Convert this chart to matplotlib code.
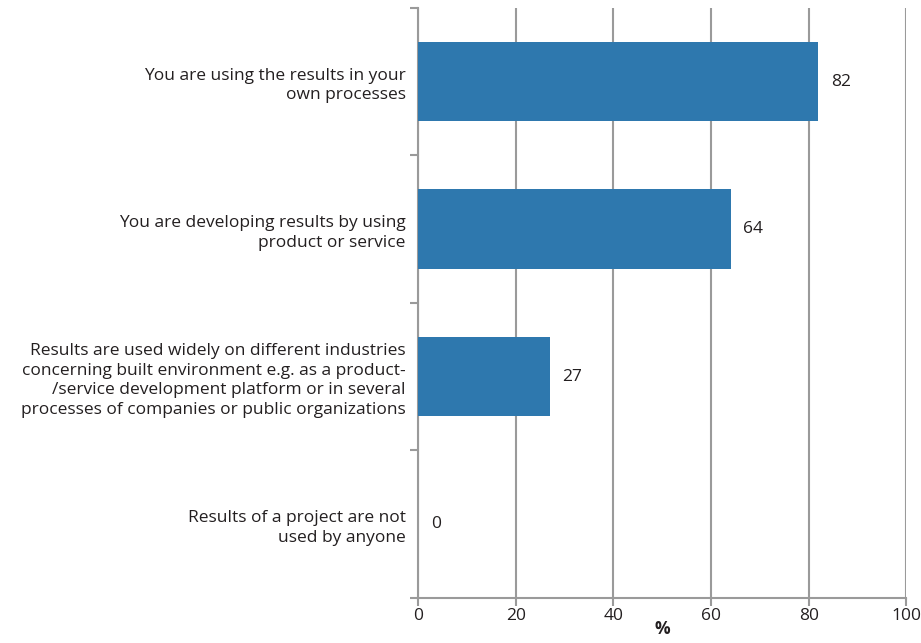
import matplotlib.pyplot as plt
import numpy as np

# Data
categories = [
    "You are using the results in your\nown processes",
    "You are developing results by using\nproduct or service",
    "Results are used widely on different industries\nconcerning built environment e.g. as a product-\n/service development platform or in several\nprocesses of companies or public organizations",
    "Results of a project are not\nused by anyone",
]
values = [82, 64, 27, 0]

bar_color = "#2E78AE"
grid_color = "#9a9a9a"
text_color = "#231f20"

plt.rcParams['font.family'] = ['Open Sans', 'DejaVu Sans']

fig = plt.figure(figsize=(9.21, 6.43), dpi=100)
ax = fig.add_axes([0.454, 0.07, 0.53, 0.918])

y = np.arange(len(categories))
ax.barh(y, values, height=0.54, color=bar_color, zorder=3)

for yi, v in zip(y, values):
    ax.text(v + 2.6, yi, str(v), va='center', ha='left', fontsize=12.5, color=text_color)

ax.set_xlim(0, 100)
ax.set_ylim(len(categories) - 0.5, -0.5)
ax.set_xticks(np.arange(0, 101, 20))
ax.set_yticks(y)
ax.set_yticklabels(categories, fontsize=12.5, color=text_color, linespacing=1.3)
ax.set_yticks(np.arange(-0.5, len(categories), 1), minor=True)
ax.tick_params(axis='y', which='major', length=0, pad=9)
ax.tick_params(axis='y', which='minor', length=6, width=1.5, color=grid_color)
ax.tick_params(axis='x', length=6, width=1.5, color=grid_color, labelsize=12.5, labelcolor=text_color, pad=1)

ax.xaxis.grid(True, color=grid_color, linewidth=1.5, zorder=0)
for s in ['top', 'right']:
    ax.spines[s].set_visible(False)
for s in ['left', 'bottom']:
    ax.spines[s].set_color(grid_color)
    ax.spines[s].set_linewidth(1.5)

ax.set_xlabel('%', fontsize=12.5, fontweight='bold', color=text_color, labelpad=-3)

fig.savefig('out.png', dpi=100)
